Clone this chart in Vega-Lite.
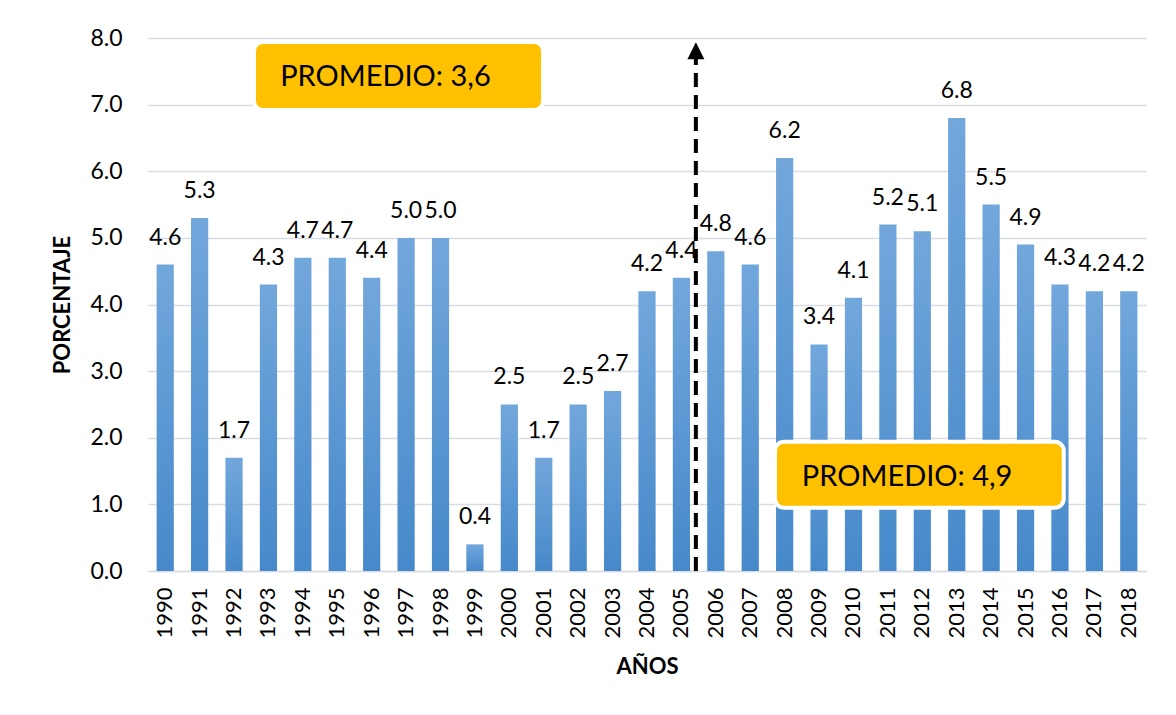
{
  "$schema": "https://vega.github.io/schema/vega-lite/v6.json",
  "width": 998,
  "height": 533,
  "autosize": {"type": "none"},
  "padding": {"left": 148, "top": 38, "right": 30, "bottom": 144},
  "background": "white",
  "config": {
    "font": "Lato",
    "view": {"stroke": null},
    "axis": {"labelColor": "#000000", "titleColor": "#000000"},
    "axisY": {
      "labelFontSize": 23, "labelPadding": 26, "ticks": false, "domain": false,
      "grid": true, "gridColor": "#D9DDE3", "gridWidth": 1.5,
      "titleFontSize": 22, "titleFontWeight": "bold", "titlePadding": 15
    }
  },
  "datasets": {
    "pib": [
      {"year": "1990", "value": 4.6}, {"year": "1991", "value": 5.3}, {"year": "1992", "value": 1.7},
      {"year": "1993", "value": 4.3}, {"year": "1994", "value": 4.7}, {"year": "1995", "value": 4.7},
      {"year": "1996", "value": 4.4}, {"year": "1997", "value": 5.0}, {"year": "1998", "value": 5.0},
      {"year": "1999", "value": 0.4}, {"year": "2000", "value": 2.5}, {"year": "2001", "value": 1.7},
      {"year": "2002", "value": 2.5}, {"year": "2003", "value": 2.7}, {"year": "2004", "value": 4.2},
      {"year": "2005", "value": 4.4}, {"year": "2006", "value": 4.8}, {"year": "2007", "value": 4.6},
      {"year": "2008", "value": 6.2}, {"year": "2009", "value": 3.4}, {"year": "2010", "value": 4.1},
      {"year": "2011", "value": 5.2}, {"year": "2012", "value": 5.1}, {"year": "2013", "value": 6.8},
      {"year": "2014", "value": 5.5}, {"year": "2015", "value": 4.9}, {"year": "2016", "value": 4.3},
      {"year": "2017", "value": 4.2}, {"year": "2018", "value": 4.2}
    ],
    "boxes": [
      {"label": "PROMEDIO: 3,6", "bx1": 3.08, "bx2": 11.48, "by1": 6.92, "by2": 7.94, "tx": 3.84, "ty": 7.41},
      {"label": "PROMEDIO: 4,9", "bx1": 18.22, "bx2": 26.61, "by1": 0.95, "by2": 1.94, "tx": 19.0, "ty": 1.41}
    ],
    "arrow": [
      {"ax": 15.92, "ay1": 0, "ay2": 7.72, "tip": 7.81}
    ]
  },
  "layer": [
    {
      "layer": [
        {
          "data": {"name": "pib"},
          "mark": {
            "type": "bar",
            "color": {
              "gradient": "linear", "x1": 0, "y1": 0, "x2": 0, "y2": 1,
              "stops": [
                {"offset": 0, "color": "#72A7DC"},
                {"offset": 1, "color": "#4689CA"}
              ]
            }
          },
          "encoding": {
            "x": {
              "field": "year", "type": "ordinal",
              "scale": {"paddingInner": 0.5, "paddingOuter": 0.25},
              "axis": {
                "title": "AÑOS", "labelAngle": -90, "labelFontSize": 22, "labelPadding": 16,
                "ticks": false, "domain": true, "domainColor": "#D9DDE3", "domainWidth": 1.5,
                "titleFontSize": 22, "titleFontWeight": "bold", "titlePadding": 18
              }
            },
            "y": {
              "field": "value", "type": "quantitative", "title": "PORCENTAJE",
              "scale": {"domain": [0, 8], "nice": false},
              "axis": {"values": [0, 1, 2, 3, 4, 5, 6, 7, 8], "format": ".1f"}
            }
          }
        },
        {
          "data": {"name": "pib"},
          "mark": {"type": "text", "fontSize": 23, "color": "#000000", "baseline": "alphabetic", "dy": -20},
          "encoding": {
            "x": {"field": "year", "type": "ordinal"},
            "y": {"field": "value", "type": "quantitative", "title": "PORCENTAJE"},
            "text": {"field": "value", "type": "quantitative", "format": ".1f"}
          }
        }
      ]
    },
    {
      "layer": [
        {
          "data": {"name": "arrow"},
          "mark": {"type": "rule", "color": "#000000", "strokeWidth": 4, "strokeDash": [14, 8]},
          "encoding": {
            "x": {"field": "ax", "type": "quantitative", "scale": {"domain": [0, 29], "nice": false, "zero": false}, "axis": null},
            "y": {"field": "ay1", "type": "quantitative", "title": "PORCENTAJE"},
            "y2": {"field": "ay2"}
          }
        },
        {
          "data": {"name": "arrow"},
          "mark": {"type": "point", "shape": "M0,-1L1,1L-1,1Z", "filled": true, "color": "#000000", "opacity": 1, "size": 289},
          "encoding": {
            "x": {"field": "ax", "type": "quantitative", "axis": null},
            "y": {"field": "tip", "type": "quantitative", "title": "PORCENTAJE"}
          }
        },
        {
          "data": {"name": "boxes"},
          "mark": {"type": "rect", "color": "#FFC000", "stroke": "#FFFFFF", "strokeWidth": 4, "cornerRadius": 9},
          "encoding": {
            "x": {"field": "bx1", "type": "quantitative", "axis": null},
            "x2": {"field": "bx2"},
            "y": {"field": "by1", "type": "quantitative", "title": "PORCENTAJE"},
            "y2": {"field": "by2"}
          }
        },
        {
          "data": {"name": "boxes"},
          "mark": {"type": "text", "fontSize": 29, "color": "#000000", "align": "left", "baseline": "middle"},
          "encoding": {
            "x": {"field": "tx", "type": "quantitative", "axis": null},
            "y": {"field": "ty", "type": "quantitative", "title": "PORCENTAJE"},
            "text": {"field": "label", "type": "nominal"}
          }
        }
      ]
    }
  ],
  "resolve": {"scale": {"x": "independent"}}
}
